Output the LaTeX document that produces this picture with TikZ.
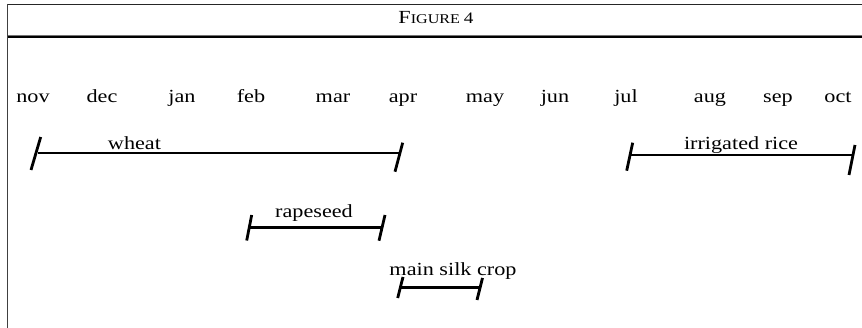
\documentclass[tikz,border=0pt]{standalone}
\usepackage{fontspec}
\setmainfont{Liberation Serif}[FakeStretch=1.2]
\begin{document}
\begin{tikzpicture}[x=1pt,y=-1pt,
  rule/.style={line width=1.4pt,black!85},
  month/.style={anchor=base,inner sep=0pt,font=\fontsize{18.5}{20}\selectfont},
  croplabel/.style={anchor=base,inner sep=0pt,font=\fontsize{18.5}{20}\selectfont},
  bar/.style={line width=2.4pt},
  tick/.style={line width=2.8pt}]
\useasboundingbox (0,0) rectangle (862,328);
% frame
\draw[rule] (7.5,4.5) -- (862,4.5);
\draw[line width=1.2pt,black!55] (7.5,35.5) -- (862,35.5);
\draw[line width=1.6pt,black] (7.5,37.2) -- (862,37.2);
\draw[line width=1.5pt,black!75] (7.5,4) -- (7.5,328);
% title in small capitals
\node[anchor=base,inner sep=0pt] (title) at (436,24)
  {\fontsize{18.5}{20}\selectfont F\fontsize{13.4}{14}\selectfont IGURE \fontsize{16}{20}\selectfont 4};
% month axis
\foreach \m/\x in {nov/33,dec/102,jan/182,feb/251,mar/333,apr/403,
                   may/485,jun/555,jul/626,aug/710,sep/778,oct/838}
  \node[month] (m-\m) at (\x,103) {\m};
% wheat
\coordinate (wA) at (38,153.3);
\coordinate (wB) at (399,153.3);
\draw[bar] (wA) -- (wB);
\draw[tick] (40.7,137) -- (31,170);
\draw[tick] (402.7,142.7) -- (395,171.7);
\node[croplabel] (wheat) at (134.5,149.3) {wheat};
% irrigated rice
\coordinate (rA) at (630,155);
\coordinate (rB) at (852,155);
\draw[bar] (rA) -- (rB);
\draw[tick] (632.7,142.7) -- (626.7,170.7);
\draw[tick] (855,145) -- (849,175);
\node[croplabel] (rice) at (741,150) {irrigated rice};
% rapeseed
\coordinate (pA) at (250,227.7);
\coordinate (pB) at (382,227.7);
\draw[bar] (pA) -- (pB);
\draw[tick] (251.7,215) -- (246.7,240.5);
\draw[tick] (385,215) -- (379,240.7);
\node[croplabel] (rape) at (314,218) {rapeseed};
% main silk crop
\coordinate (sA) at (400,287.7);
\coordinate (sB) at (480,287.7);
\draw[bar] (sA) -- (sB);
\draw[tick] (403,277) -- (397.7,298);
\draw[tick] (482.5,278) -- (477,300);
\node[croplabel] (silk) at (453,276) {main silk crop};
\end{tikzpicture}
\end{document}
